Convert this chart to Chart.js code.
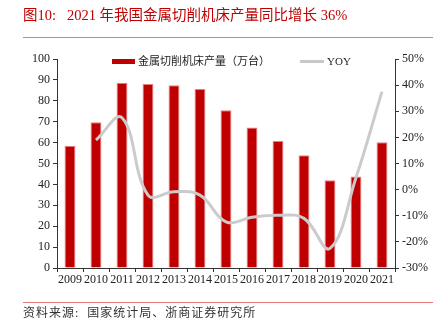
<!DOCTYPE html>
<html>
<head>
<meta charset="utf-8">
<script src="https://cdn.jsdelivr.net/npm/chart.js@4"></script>
<style>
  html, body { margin: 0; padding: 0; background: #fff; }
  body { width: 443px; height: 322px; position: relative; overflow: hidden;
         font-family: "Liberation Serif", "Noto Sans CJK SC", serif; }
  #c { position: absolute; left: 0; top: 0; }
  .title { position: absolute; left: 23px; top: 5px; font-size: 14.5px; color: #c00000; white-space: pre; line-height: 20px; }
  .rule { position: absolute; left: 23px; width: 410px; height: 1px; background: #e27a7a; }
  .src { position: absolute; left: 23px; top: 305px; font-size: 12px; color: #333; line-height: 16px; white-space: pre; letter-spacing: 1px; }
  .leg { position: absolute; font-size: 11px; color: #222; line-height: 14px; white-space: pre; }
  .box { position: absolute; }
</style>
</head>
<body>
<canvas id="c" width="443" height="322"></canvas>
<div class="title">图10:   2021 年我国金属切削机床产量同比增长 36%</div>
<div class="rule" style="top:37px;"></div>
<div class="box" style="left:112px; top:59px; width:23px; height:5px; background:#c00000;"></div>
<div class="leg" style="left:138px; top:54px;">金属切削机床产量（万台）</div>
<div class="box" style="left:300px; top:60px; width:24px; height:3px; background:#c8c8c8;"></div>
<div class="leg" style="left:327px; top:54px;">YOY</div>
<div class="rule" style="top:302px;"></div>
<div class="src">资料来源:  国家统计局、浙商证券研究所</div>
<script>
const categories = ['2009','2010','2011','2012','2013','2014','2015','2016','2017','2018','2019','2020','2021'];
const production = [58.5, 69.7, 88.6, 88.0, 87.5, 85.7, 75.5, 67.2, 60.8, 54.0, 42.0, 43.8, 60.2];
const yoy = [null, 19.0, 27.5, -2.1, -0.8, -2.1, -12.3, -10.6, -9.8, -11.0, -22.5, 4.6, 37.5];
const leftTicks = [0,10,20,30,40,50,60,70,80,90,100];
const rightTicks = [-30,-20,-10,0,10,20,30,40,50];

const tickFont = { family: '"Liberation Serif", serif', size: 12 };
new Chart(document.getElementById('c'), {
  data: {
    labels: categories,
    datasets: [
      { type: 'line', label: 'YOY', data: yoy, yAxisID: 'y1', borderColor: '#cbcbcb',
        borderWidth: 3, pointRadius: 0, tension: 0.4, spanGaps: true, order: 0 },
      { type: 'bar', label: '金属切削机床产量（万台）', data: production, yAxisID: 'y',
        backgroundColor: '#c00000', borderColor: '#e88080', borderWidth: 1,
        barPercentage: 0.42, categoryPercentage: 1, order: 1 }
    ]
  },
  options: {
    responsive: false, animation: false,
    layout: { padding: { top: 59, left: 0, right: 0, bottom: 24 } },
    plugins: { legend: { display: false }, tooltip: { enabled: false } },
    scales: {
      x: {
        grid: { display: true, drawOnChartArea: false, drawTicks: true, tickLength: 4, color: '#333', offset: true },
        border: { display: true, color: '#333', width: 1 },
        ticks: { color: '#222', font: tickFont, maxRotation: 0, autoSkip: false, padding: 1 },
        afterFit: s => { s.height = 30; }
      },
      y: {
        position: 'left', min: 0, max: 100,
        afterBuildTicks: s => { s.ticks = leftTicks.map(v => ({ value: v })); },
        grid: { display: true, drawOnChartArea: false, tickLength: 4, color: '#333' },
        border: { display: true, color: '#333', width: 1 },
        ticks: { color: '#222', font: tickFont, padding: 3 },
        afterFit: s => { s.width = 57; }
      },
      y1: {
        position: 'right', min: -30, max: 50,
        afterBuildTicks: s => { s.ticks = rightTicks.map(v => ({ value: v })); },
        grid: { display: true, drawOnChartArea: false, tickLength: 4, color: '#333' },
        border: { display: true, color: '#333', width: 1 },
        ticks: { color: '#222', font: tickFont, padding: 3, callback: v => v + '%' },
        afterFit: s => { s.width = 48; }
      }
    }
  }
});
</script>
</body>
</html>
